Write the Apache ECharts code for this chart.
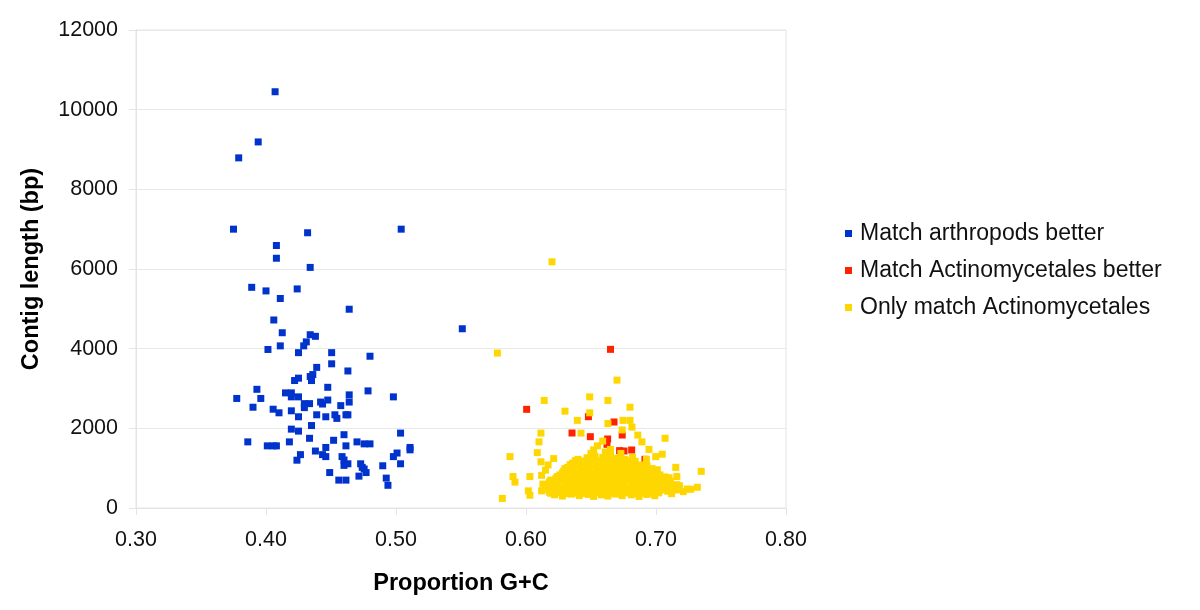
<!DOCTYPE html>
<html><head><meta charset="utf-8">
<script src="https://cdn.jsdelivr.net/npm/echarts@6/dist/echarts.min.js"></script>
<style>html,body{margin:0;padding:0;background:#fff}#c{width:1200px;height:610px}</style>
</head><body><div id="c"></div>
<script>
const seriesNames = ["Match arthropods better", "Match Actinomycetales better", "Only match Actinomycetales"];
const xTicks = [0.30, 0.40, 0.50, 0.60, 0.70, 0.80];
const yTicks = [0, 2000, 4000, 6000, 8000, 10000, 12000];

const arthropods = [
[0.407,10450],[0.394,9190],[0.379,8790],[0.375,7000],[0.432,6910],[0.504,7000],[0.408,6590],[0.408,6270],[0.434,6040],[0.389,5540],[0.400,5450],[0.424,5500],[0.411,5260],[0.464,4990],[0.406,4720],[0.551,4500],
[0.4125,4400],[0.434,4350],[0.438,4310],[0.431,4170],[0.429,4070],[0.4015,3980],[0.411,4070],[0.425,3900],[0.4505,3900],[0.480,3810],[0.4505,3620],[0.439,3530],[0.463,3440],[0.436,3350],[0.434,3300],[0.435,3200],[0.425,3260],[0.422,3200],[0.393,2980],[0.4475,3030],[0.4785,2940],[0.3775,2750],[0.396,2750],[0.415,2890],[0.4195,2890],[0.4195,2790],[0.425,2790],[0.464,2840],[0.464,2660],[0.498,2790],[0.390,2530],[0.4295,2620],[0.4335,2620],[0.4295,2520],[0.442,2660],[0.4435,2610],[0.4475,2710],[0.4575,2570],[0.4055,2480],[0.41,2390],[0.4195,2440],[0.425,2290],[0.439,2340],[0.446,2290],[0.453,2340],[0.4545,2250],[0.4615,2340],[0.463,2340],[0.435,2070],[0.4195,1980],[0.425,1930],[0.5035,1880],[0.460,1840],[0.386,1660],[0.4335,1750],[0.452,1700],[0.401,1560],[0.4055,1560],[0.408,1560],[0.418,1660],[0.470,1660],[0.4755,1610],[0.480,1610],[0.4615,1560],[0.446,1520],[0.5108,1520],[0.5108,1460],[0.438,1430],[0.4265,1340],[0.4435,1340],[0.446,1290],[0.4585,1290],[0.498,1290],[0.5008,1380],[0.4238,1200],[0.460,1205],[0.460,1070],[0.463,1110],[0.4728,1110],[0.474,1020],[0.4755,980],[0.477,890],[0.5035,1110],[0.4898,1060],[0.449,890],[0.4715,800],[0.4925,750],[0.456,700],[0.4615,700],[0.4938,570]
];

const actinoBetter = [
[0.6005,2477],[0.665,3983],[0.648,2292],[0.6677,2159],[0.6354,1883],[0.674,1832],[0.6495,1790],[0.6628,1732],[0.6623,1599],[0.6754,1431],[0.6813,1456],[0.6915,1222],[0.690,1054],[0.680,1097],[0.672,1440]
];

const onlyActino = [
[0.620,6180],[0.578,3890],[0.670,3210],[0.649,2790],[0.614,2700],[0.663,2700],[0.680,2530],[0.630,2430],[0.649,2390],[0.6395,2200],[0.663,2120],[0.6746,2200],[0.680,2200],[0.6815,2030],[0.6115,1880],[0.6423,1880],[0.674,1960],[0.686,1830],[0.707,1750],[0.610,1660],[0.6892,1660],[0.6946,1470],[0.6087,1390],[0.5877,1290],[0.7048,1350],[0.6998,1290],[0.6926,1220],[0.6115,1160],[0.6213,1240],[0.7152,1020],[0.7348,920],[0.590,790],[0.5915,650],[0.603,790],[0.716,790],[0.7318,520],[0.7267,470],[0.6018,430],[0.603,320],[0.5818,240],
[0.622,330],[0.628,300],[0.635,350],[0.641,310],[0.648,340],[0.652,290],[0.658,330],[0.663,300],[0.669,350],[0.674,310],[0.681,330],[0.687,290],[0.693,340],[0.699,310],
[0.612,430],[0.618,400],[0.625,450],[0.631,420],[0.637,400],[0.644,440],[0.650,410],[0.655,450],[0.661,420],[0.667,400],[0.672,440],[0.678,410],[0.684,450],[0.690,420],[0.696,400],[0.703,440],[0.709,420],[0.715,450],[0.721,410],
[0.615,530],[0.620,560],[0.627,510],[0.633,540],[0.639,520],[0.645,560],[0.651,530],[0.657,500],[0.662,550],[0.668,520],[0.673,560],[0.679,510],[0.685,540],[0.691,520],[0.697,560],[0.702,500],[0.708,540],[0.713,520],[0.718,560],
[0.618,650],[0.624,620],[0.630,670],[0.636,640],[0.642,610],[0.648,660],[0.654,630],[0.659,680],[0.665,610],[0.671,650],[0.676,620],[0.682,670],[0.688,640],[0.694,610],[0.700,660],[0.706,630],[0.711,670],
[0.623,740],[0.629,710],[0.634,760],[0.640,730],[0.646,700],[0.652,750],[0.658,720],[0.664,770],[0.669,740],[0.675,710],[0.681,760],[0.686,730],[0.692,700],[0.698,750],[0.704,720],[0.710,760],
[0.626,830],[0.632,860],[0.638,810],[0.644,850],[0.650,820],[0.656,870],[0.661,840],[0.667,810],[0.673,860],[0.679,830],[0.684,870],[0.690,820],[0.696,850],[0.703,830],
[0.629,930],[0.636,900],[0.642,950],[0.648,920],[0.654,970],[0.660,940],[0.666,910],[0.671,960],[0.677,930],[0.683,900],[0.689,950],[0.695,920],[0.701,960],
[0.632,1020],[0.639,1060],[0.645,1030],[0.651,1070],[0.657,1010],[0.663,1050],[0.668,1020],[0.674,1070],[0.680,1040],[0.686,1010],[0.693,1060],
[0.636,1130],[0.643,1100],[0.649,1160],[0.655,1120],[0.661,1170],[0.666,1110],[0.672,1150],[0.678,1120],[0.684,1170],
[0.640,1220],[0.647,1260],[0.653,1230],[0.659,1270],[0.664,1210],[0.670,1250],[0.676,1220],[0.682,1270],
[0.650,1370],[0.662,1350],[0.673,1370],
[0.652,1460],[0.665,1470],
[0.655,1560],
[0.659,1680],
[0.619,370],[0.625,380],[0.632,360],[0.638,375],[0.645,365],[0.655,380],[0.661,360],[0.666,375],[0.672,365],[0.678,380],[0.684,360],[0.690,375],[0.696,365],[0.702,380],[0.712,360],
[0.615,470],[0.622,480],[0.628,465],[0.634,475],[0.641,470],[0.647,485],[0.653,465],[0.658,480],[0.664,470],[0.670,485],[0.675,465],[0.681,475],[0.687,480],[0.693,465],[0.699,475],[0.706,470],[0.712,485],[0.718,465],[0.724,475],
[0.617,590],[0.623,600],[0.630,585],[0.636,595],[0.642,580],[0.648,600],[0.654,590],[0.660,585],[0.665,595],[0.671,580],[0.676,600],[0.682,590],[0.688,585],[0.694,595],[0.700,580],[0.705,600],[0.711,590],[0.716,585],
[0.621,690],[0.627,700],[0.633,685],[0.639,695],[0.645,680],[0.651,700],[0.657,690],[0.662,685],[0.668,695],[0.674,680],[0.679,700],[0.685,690],[0.691,685],[0.697,695],[0.703,680],[0.709,700],
[0.624,790],[0.630,800],[0.636,785],[0.642,795],[0.648,780],[0.654,800],[0.660,790],[0.666,785],[0.672,795],[0.677,780],[0.683,800],[0.689,790],[0.695,785],[0.701,795],[0.707,780],
[0.628,880],[0.634,890],[0.640,875],[0.646,885],[0.652,880],[0.658,895],[0.664,875],[0.670,885],[0.676,890],[0.682,875],[0.688,885],[0.694,880],[0.700,890],
[0.630,990],[0.636,1000],[0.642,985],[0.648,995],[0.654,980],[0.660,1000],[0.666,990],[0.672,985],[0.678,995],[0.684,980],[0.690,1000],[0.697,990],
[0.634,1090],[0.640,1080],[0.646,1095],[0.652,1085],[0.658,1100],[0.664,1080],[0.670,1090],[0.676,1085],[0.682,1095],[0.688,1080],
[0.638,1190],[0.644,1180],[0.650,1195],[0.656,1185],[0.662,1200],[0.668,1180],[0.674,1190],[0.680,1185],
[0.653,1300],[0.665,1295],
[0.661,1405],
[0.612,820],[0.615,950],[0.617,1080],[0.619,700],[0.613,600]
];

const FONT = '"Liberation Sans", Arial, sans-serif';
const chart = echarts.init(document.getElementById('c'), null, {renderer: 'canvas'});
const sym = {symbol: 'rect', symbolSize: 7};
chart.setOption({
  animation: false,
  backgroundColor: '#ffffff',
  grid: {left: 136, top: 30, width: 650, height: 478, show: true, borderColor: '#e4e4e4', borderWidth: 1},
  legend: {
    orient: 'vertical', left: 840, top: 217, itemGap: 14, itemWidth: 7, itemHeight: 7, icon: 'rect',
    textStyle: {fontFamily: FONT, fontSize: 23, color: '#111', padding: [0,0,0,3]},
    data: seriesNames
  },
  xAxis: {
    type: 'value', min: 0.3, max: 0.8, interval: 0.1,
    name: 'Proportion G+C', nameLocation: 'middle', nameGap: 64,
    nameTextStyle: {fontFamily: FONT, fontSize: 23.5, fontWeight: 'bold', color: '#000'},
    axisLine: {show: true, lineStyle: {color: '#e4e4e4'}},
    axisTick: {show: true, length: 7, lineStyle: {color: '#e4e4e4'}},
    splitLine: {show: false},
    axisLabel: {fontFamily: FONT, fontSize: 21.5, color: '#111', margin: 21, formatter: v => v.toFixed(2)}
  },
  yAxis: {
    type: 'value', min: 0, max: 12000, interval: 2000,
    name: 'Contig length (bp)', nameLocation: 'middle', nameGap: 92, nameRotate: 90,
    nameTextStyle: {fontFamily: FONT, fontSize: 23.5, fontWeight: 'bold', color: '#000'},
    axisLine: {show: true, lineStyle: {color: '#e4e4e4'}},
    axisTick: {show: true, length: 7, lineStyle: {color: '#e4e4e4'}},
    splitLine: {show: true, lineStyle: {color: '#e8e8e8'}},
    axisLabel: {fontFamily: FONT, fontSize: 21.5, color: '#111', margin: 18, formatter: v => String(v)}
  },
  series: [
    Object.assign({type: 'scatter', name: seriesNames[0], data: arthropods, itemStyle: {color: '#0033CC', opacity: 1}}, sym),
    Object.assign({type: 'scatter', name: seriesNames[1], data: actinoBetter, itemStyle: {color: '#FF2200', opacity: 1}}, sym),
    Object.assign({type: 'scatter', name: seriesNames[2], data: onlyActino, itemStyle: {color: '#FFD700', opacity: 1}}, sym)
  ]
});
</script>
</body></html>
